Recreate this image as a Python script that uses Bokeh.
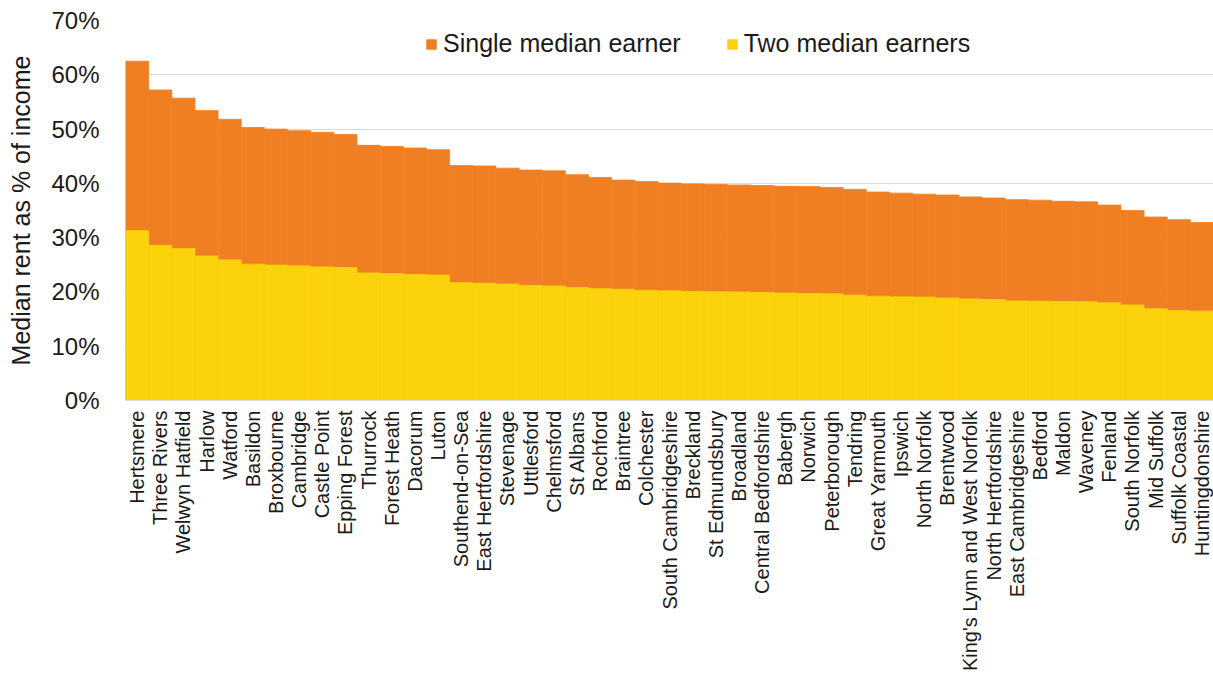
from math import pi
from bokeh.plotting import figure
from bokeh.models import (ColumnDataSource, FactorRange, Range1d, Legend, LegendItem,
                          PrintfTickFormatter, SingleIntervalTicker)
from bokeh.embed import file_html
from bokeh.resources import INLINE

districts = ["Hertsmere", "Three Rivers", "Welwyn Hatfield", "Harlow", "Watford", "Basildon",
             "Broxbourne", "Cambridge", "Castle Point", "Epping Forest", "Thurrock", "Forest Heath",
             "Dacorum", "Luton", "Southend-on-Sea", "East Hertfordshire", "Stevenage", "Uttlesford",
             "Chelmsford", "St Albans", "Rochford", "Braintree", "Colchester", "South Cambridgeshire",
             "Breckland", "St Edmundsbury", "Broadland", "Central Bedfordshire", "Babergh", "Norwich",
             "Peterborough", "Tendring", "Great Yarmouth", "Ipswich", "North Norfolk", "Brentwood",
             "King's Lynn and West Norfolk", "North Hertfordshire", "East Cambridgeshire", "Bedford",
             "Maldon", "Waveney", "Fenland", "South Norfolk", "Mid Suffolk", "Suffolk Coastal",
             "Huntingdonshire"]

single_earner = [62.5, 57.2, 55.7, 53.4, 51.8, 50.3, 50.0, 49.7, 49.4, 49.0, 47.0, 46.8,
                 46.5, 46.2, 43.3, 43.2, 42.8, 42.45, 42.3, 41.6, 41.1, 40.6, 40.35, 40.05,
                 39.9, 39.8, 39.7, 39.6, 39.45, 39.4, 39.25, 38.9, 38.4, 38.2, 38.0, 37.85,
                 37.5, 37.3, 37.0, 36.9, 36.7, 36.6, 36.0, 35.0, 33.8, 33.3, 32.8]

two_earners = [31.3, 28.6, 28.0, 26.6, 25.9, 25.1, 24.95, 24.8, 24.6, 24.5, 23.5, 23.4,
               23.2, 23.1, 21.7, 21.6, 21.45, 21.2, 21.1, 20.8, 20.6, 20.5, 20.3, 20.2,
               20.1, 20.05, 20.0, 19.9, 19.8, 19.7, 19.65, 19.4, 19.2, 19.1, 19.05, 18.9,
               18.7, 18.6, 18.35, 18.3, 18.25, 18.2, 18.0, 17.6, 16.9, 16.6, 16.45]

ORANGE = "#F07F23"
YELLOW = "#FBD20B"
FONT = "Liberation Sans"
TXT = "#1a1a1a"

src = ColumnDataSource(dict(d=districts, single=single_earner, two=two_earners))

p = figure(x_range=FactorRange(*districts), y_range=Range1d(0, 70),
           width=1213, height=674, output_backend="svg", toolbar_location=None,
           min_border_left=125, min_border_top=20, min_border_bottom=274, min_border_right=0)
p.outline_line_color = None
p.background_fill_color = "white"

r1 = p.vbar(x="d", top="single", width=1.0, source=src,
            fill_color=ORANGE, line_color=ORANGE, line_width=0.8)
r2 = p.vbar(x="d", top="two", width=1.0, source=src,
            fill_color=YELLOW, line_color=YELLOW, line_width=0.8)

# y axis
p.yaxis.ticker = SingleIntervalTicker(interval=10)
p.yaxis.formatter = PrintfTickFormatter(format="%d%%")
p.yaxis.axis_line_color = None
p.yaxis.major_tick_line_color = None
p.yaxis.minor_tick_line_color = None
p.yaxis.major_tick_out = 0
p.yaxis.major_label_standoff = 22
p.yaxis.major_label_text_font = FONT
p.yaxis.major_label_text_font_size = "24px"
p.yaxis.major_label_text_color = TXT
p.yaxis.axis_label = "Median rent as % of income"
p.yaxis.axis_label_text_font = FONT
p.yaxis.axis_label_text_font_size = "25px"
p.yaxis.axis_label_text_font_style = "normal"
p.yaxis.axis_label_text_color = TXT
p.yaxis.axis_label_standoff = 13

# x axis
p.xaxis.major_label_orientation = pi / 2
p.xaxis.major_label_text_font = FONT
p.xaxis.major_label_text_font_size = "20px"
p.xaxis.major_label_text_color = TXT
p.xaxis.major_tick_line_color = None
p.xaxis.major_tick_out = 0
p.xaxis.major_label_standoff = 10
p.xaxis.axis_line_color = "#d9d9d9"

p.xgrid.grid_line_color = None
p.ygrid.grid_line_color = "#d9d9d9"
p.ygrid.grid_line_width = 1

legend = Legend(items=[LegendItem(label="Single median earner", renderers=[r1]),
                       LegendItem(label="Two median earners", renderers=[r2])],
                orientation="horizontal", location=(300, 342),
                padding=0, margin=0, spacing=45, label_standoff=6,
                glyph_width=12, glyph_height=12,
                label_text_font=FONT, label_text_font_size="25px", label_text_color=TXT,
                border_line_color=None, background_fill_alpha=0)
p.add_layout(legend)

open("out.html", "w").write(file_html(p, INLINE))
